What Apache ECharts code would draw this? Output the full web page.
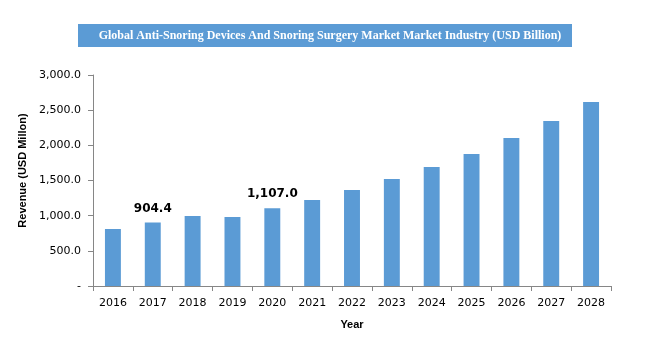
<!DOCTYPE html>
<html><head><meta charset="utf-8">
<script src="https://cdn.jsdelivr.net/npm/echarts@6/dist/echarts.min.js"></script>
<style>html,body{margin:0;padding:0;background:#fff}#c{width:659px;height:343px}</style>
</head><body><div id="c"></div>
<script>
const titleText = 'Global Anti-Snoring Devices And Snoring Surgery Market Market Industry (USD Billion)';
const years = ['2016','2017','2018','2019','2020','2021','2022','2023','2024','2025','2026','2027','2028'];
const revenue = [810, 904.4, 995, 981, 1107.0, 1223, 1365, 1521, 1692, 1877, 2104, 2346, 2616];
const labelledYears = ['2017','2020'];

function fmt(v){
  if (v === 0) return '-';
  return v.toLocaleString('en-US',{minimumFractionDigits:1, maximumFractionDigits:1});
}

const chart = echarts.init(document.getElementById('c'));
chart.setOption({
  animation:false,
  graphic:[{
    type:'rect', left:78, top:24, shape:{width:494, height:23},
    style:{fill:'#5b9bd5'}
  }],
  title:{
    text:titleText, left:325, top:25, textAlign:'center',
    textStyle:{fontFamily:'Liberation Serif', fontWeight:'bold', fontSize:12, color:'#fff'}
  },
  grid:{left:93, right:48, top:75, bottom:57},
  xAxis:{
    type:'category', data:years, name:'Year', nameLocation:'middle', nameGap:33,
    nameTextStyle:{fontFamily:'Liberation Sans', fontWeight:'bold', fontSize:11, color:'#000'},
    axisLine:{lineStyle:{color:'#868686'}},
    axisTick:{show:true, length:5, inside:false, lineStyle:{color:'#868686'}},
    axisLabel:{fontFamily:'DejaVu Sans', fontSize:11, color:'#000', margin:12, interval:0}
  },
  yAxis:{
    type:'value', min:0, max:3000, interval:500,
    name:'Revenue (USD Millon)', nameLocation:'middle', nameGap:64, nameRotate:90,
    nameTextStyle:{fontFamily:'Liberation Sans', fontWeight:'bold', fontSize:11, color:'#000', padding:[0,0,0,20]},
    axisLine:{show:true, lineStyle:{color:'#868686'}},
    axisTick:{show:true, length:5, lineStyle:{color:'#868686'}},
    splitLine:{show:false},
    axisLabel:{fontFamily:'DejaVu Sans', fontSize:11, color:'#000', margin:12, formatter:fmt}
  },
  series:[{
    type:'bar', barWidth:'40%',
    itemStyle:{color:'#5b9bd5'},
    data: revenue.map((v,i)=>({
      value:v,
      label:{show: labelledYears.includes(years[i])}
    })),
    label:{position:'top', distance:8, fontFamily:'DejaVu Sans', fontWeight:'bold', fontSize:12, color:'#000',
      formatter:p=>fmt(p.value)}
  }]
});
</script></body></html>
